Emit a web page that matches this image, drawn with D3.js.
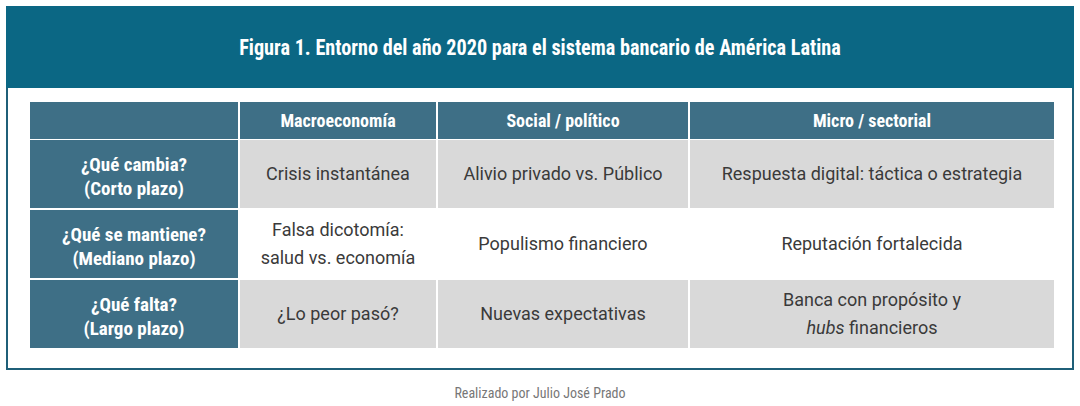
<!DOCTYPE html>
<html><head><meta charset="utf-8">
<script src="https://cdn.jsdelivr.net/npm/d3@7"></script>
<style>body{margin:0;background:#fff}</style>
</head><body><div id="chart"></div>
<script>
const title = 'Figura 1. Entorno del año 2020 para el sistema bancario de América Latina'
const columns = ['Macroeconomía', 'Social / político', 'Micro / sectorial']
const rowLabels = [['¿Qué cambia?', '(Corto plazo)'], ['¿Qué se mantiene?', '(Mediano plazo)'], ['¿Qué falta?', '(Largo plazo)']]
const cells = [
  [['Crisis instantánea'], ['Alivio privado vs. Público'], ['Respuesta digital: táctica o estrategia']],
  [['Falsa dicotomía:', 'salud vs. economía'], ['Populismo financiero'], ['Reputación fortalecida']],
  [['¿Lo peor pasó?'], ['Nuevas expectativas'], ['Banca con propósito y', '<i>hubs</i> financieros']]
]
const credit = 'Realizado por Julio José Prado'

const width = 1080, height = 406
const colEdges = [30, 240, 438, 690, 1056]
const cond = '"Liberation Sans Narrow","Roboto Condensed","Arial Narrow",sans-serif'
const body = '"Helvetica Neue",Roboto,"Liberation Sans",sans-serif'

const svg = d3.select('#chart').append('svg').attr('width', width).attr('height', height)

// frame and title band
svg.append('rect').attr('x', 7).attr('y', 7).attr('width', 1066).attr('height', 362)
  .attr('fill', '#fff').attr('stroke', '#1f5f78').attr('stroke-width', 2)
svg.append('rect').attr('x', 6).attr('y', 6).attr('width', 1068).attr('height', 82).attr('fill', '#0b6784')
svg.append('text').attr('x', 540).attr('y', 55).attr('text-anchor', 'middle')
  .attr('fill', '#fff').attr('font-family', cond).attr('font-weight', 'bold').attr('font-size', 22)
  .attr('transform', 'translate(540,0) scale(0.92,1) translate(-540,0)')
  .text(title)

const y = d3.scaleBand().domain(d3.range(4)).range([102, 352]).paddingInner(0.03)
y.bandwidth()
const rowY = i => i === 0 ? 102 : 140 + (i - 1) * 70
const rowH = i => i === 0 ? 37 : 68

// header row
svg.append('rect').attr('x', colEdges[0]).attr('y', rowY(0)).attr('width', colEdges[1] - colEdges[0] - 2)
  .attr('height', rowH(0)).attr('fill', '#3e6f86')
columns.forEach((c, j) => {
  const x0 = colEdges[j + 1], x1 = colEdges[j + 2] - 2
  svg.append('rect').attr('x', x0).attr('y', rowY(0)).attr('width', x1 - x0).attr('height', rowH(0)).attr('fill', '#3e6f86')
  svg.append('text').attr('x', (x0 + x1) / 2).attr('y', rowY(0) + 25).attr('text-anchor', 'middle')
    .attr('fill', '#fff').attr('font-family', cond).attr('font-weight', 'bold').attr('font-size', 18).text(c)
})

// body rows
rowLabels.forEach((lab, i) => {
  const yy = rowY(i + 1), hh = rowH(i + 1)
  svg.append('rect').attr('x', colEdges[0]).attr('y', yy).attr('width', colEdges[1] - colEdges[0] - 2)
    .attr('height', hh).attr('fill', '#3e6f86')
  svg.append('text').attr('x', (colEdges[0] + colEdges[1]) / 2 - 1).attr('y', yy + hh / 2 - 3)
    .attr('text-anchor', 'middle').attr('fill', '#fff').attr('font-family', cond).attr('font-weight', 'bold').attr('font-size', 19)
    .selectAll('tspan').data(lab).join('tspan')
    .attr('x', (colEdges[0] + colEdges[1]) / 2 - 1).attr('dy', (d, k) => k === 0 ? 0 : 24).text(d => d)
  cells[i].forEach((txt, j) => {
    const x0 = colEdges[j + 1], x1 = colEdges[j + 2] - 2
    svg.append('rect').attr('x', x0).attr('y', yy).attr('width', x1 - x0).attr('height', hh)
      .attr('fill', i === 1 ? '#ffffff' : '#d9d9d9')
    const cx = (x0 + x1) / 2
    const t = svg.append('text').attr('text-anchor', 'middle').attr('fill', '#3a3a3a')
      .attr('font-family', body).attr('font-size', 18)
    const y0 = yy + hh / 2 + 6 - (txt.length - 1) * 14
    txt.forEach((line, k) => {
      const parts = line.split(/(<i>.*?<\/i>)/).filter(p => p)
      parts.forEach((p, m) => {
        const ts = t.append('tspan')
        if (m === 0) ts.attr('x', cx).attr('y', y0 + k * 28)
        if (p.startsWith('<i>')) ts.attr('font-style', 'italic').text(p.slice(3, -4))
        else ts.text(p)
      })
    })
  })
})

svg.append('text').attr('x', 540).attr('y', 398).attr('text-anchor', 'middle')
  .attr('fill', '#777').attr('font-family', cond).attr('font-size', 14).text(credit)
</script></body></html>
